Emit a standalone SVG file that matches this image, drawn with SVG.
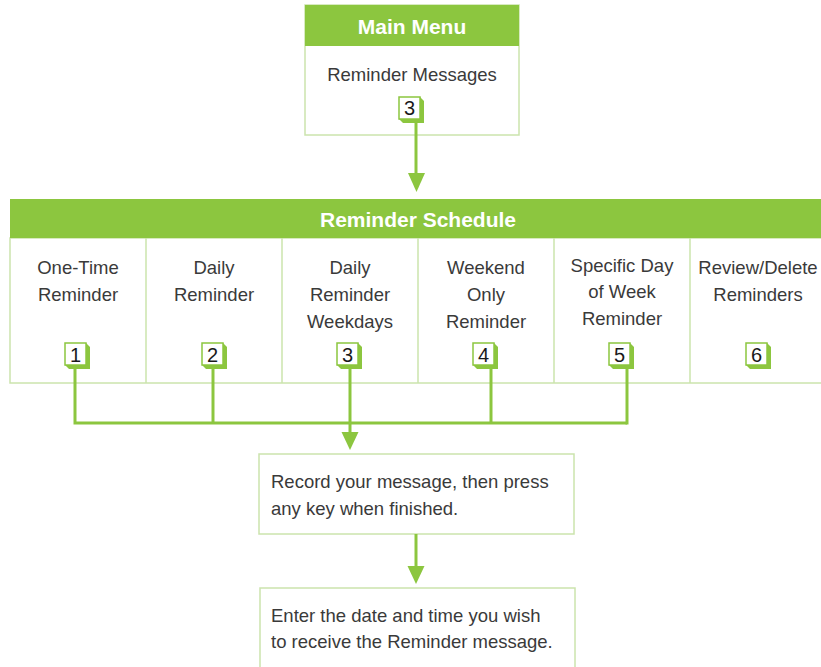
<svg xmlns="http://www.w3.org/2000/svg" width="821" height="667" viewBox="0 0 821 667">
  <style>
    .hdr { fill: #8cc63f; }
    .box { fill: #ffffff; stroke: #cbe4ad; stroke-width: 1.5; }
    .title { font-family: "Liberation Sans", Arial, sans-serif; font-weight: bold; font-size: 21px; fill: #ffffff; text-anchor: middle; }
    .lbl { font-family: "Liberation Sans", Arial, sans-serif; font-size: 18.5px; fill: #3a3a3a; }
    .mid { text-anchor: middle; }
    .keyface { fill: #ffffff; stroke: #8cc63f; stroke-width: 1.5; }
    .keyside { fill: #8cc63f; }
    .keynum { font-family: "Liberation Sans", Arial, sans-serif; font-size: 20px; fill: #1a1a1a; text-anchor: middle; }
    .wire { fill: none; stroke: #8cc63f; stroke-width: 3; }
    .head { fill: #8cc63f; }
  </style>
  <defs>
    <!-- keypad button: white face with a green bevel on right and bottom -->
    <g id="key">
      <polygon class="keyside" points="21,0 25,4 25,26 4,26 0,22 21,22"/>
      <rect class="keyface" x="0" y="0" width="21" height="22"/>
    </g>
  </defs>

  <!-- Main Menu -->
  <g id="main-menu">
    <rect class="box" x="305" y="5" width="214" height="130"/>
    <rect class="hdr" x="305" y="5" width="214" height="41"/>
    <text class="title" x="412" y="34">Main Menu</text>
    <text class="lbl mid" x="412" y="81">Reminder Messages</text>
    <use href="#key" x="399" y="97"/>
    <text class="keynum" x="409.5" y="115">3</text>
  </g>

  <!-- Reminder Schedule -->
  <g id="reminder-schedule">
    <rect class="box" x="10" y="238" width="830" height="145"/>
    <rect class="hdr" x="10" y="199" width="830" height="39"/>
    <text class="title" x="418" y="227">Reminder Schedule</text>
    <g class="box">
      <line x1="146" y1="238" x2="146" y2="383"/>
      <line x1="282" y1="238" x2="282" y2="383"/>
      <line x1="418" y1="238" x2="418" y2="383"/>
      <line x1="554" y1="238" x2="554" y2="383"/>
      <line x1="690" y1="238" x2="690" y2="383"/>
    </g>
  </g>

  <g id="opt-one-time">
    <text class="lbl mid" x="78" y="274">One-Time</text>
    <text class="lbl mid" x="78" y="301">Reminder</text>
    <use href="#key" x="65" y="343"/>
    <text class="keynum" x="75.5" y="362">1</text>
  </g>
  <g id="opt-daily">
    <text class="lbl mid" x="214" y="274">Daily</text>
    <text class="lbl mid" x="214" y="301">Reminder</text>
    <use href="#key" x="202" y="343"/>
    <text class="keynum" x="212.5" y="362">2</text>
  </g>
  <g id="opt-weekdays">
    <text class="lbl mid" x="350" y="274">Daily</text>
    <text class="lbl mid" x="350" y="301">Reminder</text>
    <text class="lbl mid" x="350" y="328">Weekdays</text>
    <use href="#key" x="337" y="343"/>
    <text class="keynum" x="347.5" y="362">3</text>
  </g>
  <g id="opt-weekend">
    <text class="lbl mid" x="486" y="274">Weekend</text>
    <text class="lbl mid" x="486" y="301">Only</text>
    <text class="lbl mid" x="486" y="328">Reminder</text>
    <use href="#key" x="473" y="343"/>
    <text class="keynum" x="483.5" y="362">4</text>
  </g>
  <g id="opt-specific-day">
    <text class="lbl mid" x="622" y="272">Specific Day</text>
    <text class="lbl mid" x="622" y="298">of Week</text>
    <text class="lbl mid" x="622" y="325">Reminder</text>
    <use href="#key" x="609" y="343"/>
    <text class="keynum" x="619.5" y="362">5</text>
  </g>
  <g id="opt-review">
    <text class="lbl mid" x="758" y="274">Review/Delete</text>
    <text class="lbl mid" x="758" y="301">Reminders</text>
    <use href="#key" x="746" y="343"/>
    <text class="keynum" x="756.5" y="362">6</text>
  </g>

  <!-- Record step -->
  <g id="record">
    <rect class="box" x="259" y="454" width="315" height="80"/>
    <text class="lbl" x="271" y="488">Record your message, then press</text>
    <text class="lbl" x="271" y="515">any key when finished.</text>
  </g>

  <!-- Date/time step -->
  <g id="enter-date">
    <rect class="box" x="260" y="588" width="315" height="100"/>
    <text class="lbl" x="271" y="622">Enter the date and time you wish</text>
    <text class="lbl" x="271" y="648">to receive the Reminder message.</text>
  </g>

  <!-- Connectors -->
  <g id="connectors">
    <line class="wire" x1="416" y1="120" x2="416" y2="175"/>
    <polygon class="head" points="408,173 425,173 416.5,192"/>

    <polyline class="wire" points="75,368 75,423 627,423"/>
    <line class="wire" x1="213" y1="368" x2="213" y2="423"/>
    <line class="wire" x1="491" y1="368" x2="491" y2="423"/>
    <line class="wire" x1="627" y1="368" x2="627" y2="424.5"/>
    <line class="wire" x1="350" y1="368" x2="350" y2="434"/>
    <polygon class="head" points="341.5,432 358.5,432 350,450"/>

    <line class="wire" x1="416" y1="534" x2="416" y2="568"/>
    <polygon class="head" points="407.5,566 424.5,566 416,584"/>
  </g>
</svg>
